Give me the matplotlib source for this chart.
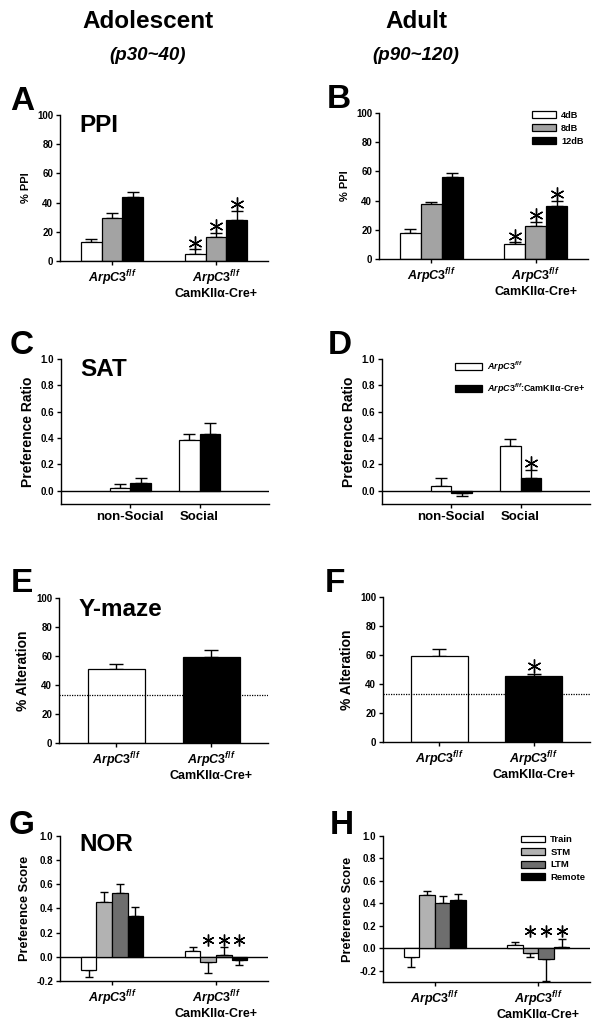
import matplotlib
matplotlib.use("Agg")
import matplotlib.pyplot as plt
import numpy as np
from matplotlib.patches import Patch

plt.rcParams['font.family'] = ['Liberation Sans', 'DejaVu Sans']
plt.rcParams['font.weight'] = 'bold'
plt.rcParams['axes.labelweight'] = 'bold'
plt.rcParams['mathtext.fontset'] = 'custom'
plt.rcParams['mathtext.rm'] = 'Liberation Sans:bold'
plt.rcParams['mathtext.bf'] = 'Liberation Sans:bold'
plt.rcParams['mathtext.it'] = 'Liberation Sans:bold:italic'

# ---------------- data ----------------
geno_labels = [r"$\mathit{ArpC3}^{\mathit{f/f}}$",
               r"$\mathit{ArpC3}^{\mathit{f/f}}$" + "\nCamKIIα-Cre+"]
ppi_levels = ["4dB", "8dB", "12dB"]
ppi_colors = ["white", "#a3a3a3", "black"]

A_ctrl = [13.0, 29.7, 43.5]
A_ctrl_err = [2.0, 3.5, 3.5]
A_ko = [4.8, 16.2, 28.1]
A_ko_err = [3.2, 3.0, 6.2]
A_sig = [True, True, True]

B_ctrl = [17.9, 37.6, 56.0]
B_ctrl_err = [2.5, 1.6, 3.2]
B_ko = [10.1, 22.7, 36.2]
B_ko_err = [1.4, 2.8, 3.5]
B_sig = [True, True, True]

sat_cats = ["non-Social", "Social"]
sat_legend = [r"$\mathit{ArpC3}^{\mathit{f/f}}$",
              r"$\mathit{ArpC3}^{\mathit{f/f}}$:CamKIIα-Cre+"]
C_ctrl = [0.020, 0.384]
C_ctrl_err = [0.030, 0.050]
C_ko = [0.056, 0.434]
C_ko_err = [0.040, 0.084]
C_sig = [False, False]

D_ctrl = [0.040, 0.337]
D_ctrl_err = [0.060, 0.053]
D_ko = [-0.013, 0.100]
D_ko_err = [0.030, 0.057]
D_sig = [False, True]

E_vals = [51.3, 59.1]
E_err = [3.4, 5.3]
E_sig = [False, False]
F_vals = [59.1, 45.3]
F_err = [5.0, 1.8]
F_sig = [False, True]
chance = 33.3

nor_phases = ["Train", "STM", "LTM", "Remote"]
nor_colors = ["white", "#b2b2b2", "#6e6e6e", "black"]
G_ctrl = [-0.113, 0.450, 0.527, 0.335]
G_ctrl_err = [0.057, 0.086, 0.075, 0.080]
G_ko = [0.047, -0.041, 0.016, -0.030]
G_ko_err = [0.035, 0.096, 0.066, 0.041]
G_sig = [False, True, True, True]

H_ctrl = [-0.075, 0.472, 0.403, 0.433]
H_ctrl_err = [0.095, 0.035, 0.063, 0.047]
H_ko = [0.033, -0.045, -0.096, 0.009]
H_ko_err = [0.021, 0.030, 0.194, 0.075]
H_sig = [False, True, True, True]

# ---------------- helpers ----------------
W, H = 602, 1025
fig = plt.figure(figsize=(W / 100, H / 100), dpi=100)


def make_ax(x0, y0, x1, y1):
    return fig.add_axes([x0 / W, 1 - y1 / H, (x1 - x0) / W, (y1 - y0) / H])


def style(ax, ylabel, ylab_size, tick_size=7):
    for s in ["top", "right"]:
        ax.spines[s].set_visible(False)
    for s in ["left", "bottom"]:
        ax.spines[s].set_linewidth(1.0)
    ax.tick_params(direction="out", length=3, width=1, labelsize=tick_size, pad=2)
    ax.set_ylabel(ylabel, fontsize=ylab_size, fontweight="bold", labelpad=4)
    for t in ax.get_yticklabels():
        t.set_fontweight("bold")


def draw_bar(ax, x, v, e, color, width, capsize):
    ax.bar(x, v, width=width, color=color, edgecolor="black", linewidth=0.9, zorder=2)
    yerr = [[0], [e]] if v >= 0 else [[e], [0]]
    ax.errorbar(x, v, yerr=yerr, fmt="none", ecolor="black", elinewidth=1.0,
                capsize=capsize, capthick=1.0, zorder=1)


def star(ax, x, y, size=10):
    ax.plot(x, y, marker=(6, 2, 0), markersize=size, color="black",
            markeredgewidth=1.0, linestyle="none", clip_on=False, zorder=3)


def panel_letter(x, y, s):
    fig.text(x / W, 1 - y / H, s, fontsize=24, fontweight="bold", ha="center", va="center")


def panel_title(ax, s, y):
    ax.text(0.095, y, s, transform=ax.transAxes, fontsize=17.5, fontweight="bold",
            ha="left", va="center")


def xlabels(ax, pos, labels, size=9):
    ax.set_xticks(pos)
    ax.set_xticklabels(labels, fontsize=size, fontweight="bold", linespacing=1.0)


# ---------------- header ----------------
fig.text(148 / W, 1 - 22 / H, "Adolescent", fontsize=17.5, fontweight="bold", ha="center", va="center")
fig.text(148 / W, 1 - 55 / H, "(p30~40)", fontsize=13.5, fontweight="bold", style="italic",
         ha="center", va="center")
fig.text(416 / W, 1 - 22 / H, "Adult", fontsize=17.5, fontweight="bold", ha="center", va="center")
fig.text(416 / W, 1 - 55 / H, "(p90~120)", fontsize=13.5, fontweight="bold", style="italic",
         ha="center", va="center")

# ---------------- PPI panels ----------------
def ppi_panel(ax, ctrl, ctrl_err, ko, ko_err, sig):
    bw = 0.2
    groups = [(0, ctrl, ctrl_err, [False] * 3), (1, ko, ko_err, sig)]
    for g, vals, errs, sg in groups:
        for i, (v, e, c) in enumerate(zip(vals, errs, ppi_colors)):
            x = g + (i - 1) * bw
            draw_bar(ax, x, v, e, c, bw, 4)
            if sg[i]:
                star(ax, x, v + e + 4.5)
    ax.set_xlim(-0.5, 1.5)
    ax.set_ylim(0, 100)
    ax.set_yticks(np.arange(0, 101, 20))
    style(ax, "% PPI", 8)
    xlabels(ax, [0, 1], geno_labels)


axA = make_ax(60, 115, 268, 261)
ppi_panel(axA, A_ctrl, A_ctrl_err, A_ko, A_ko_err, A_sig)
panel_title(axA, "PPI", 0.93)
panel_letter(22, 101, "A")

axB = make_ax(379, 113, 588, 259)
ppi_panel(axB, B_ctrl, B_ctrl_err, B_ko, B_ko_err, B_sig)
panel_letter(339, 100, "B")
hB = [Patch(facecolor=c, edgecolor="black", linewidth=0.9) for c in ppi_colors]
axB.legend(hB, ppi_levels, loc="upper left", bbox_to_anchor=(0.70, 1.06), frameon=False,
           fontsize=6.6, handlelength=2.6, handleheight=0.75, labelspacing=0.45,
           handletextpad=0.6, borderpad=0.2)

# ---------------- SAT panels ----------------
def sat_panel(ax, ctrl, ctrl_err, ko, ko_err, sig):
    bw = 0.3
    for k, (vc, ec, vk, ek) in enumerate(zip(ctrl, ctrl_err, ko, ko_err)):
        x = k + 1
        draw_bar(ax, x - bw / 2, vc, ec, "white", bw, 4)
        draw_bar(ax, x + bw / 2, vk, ek, "black", bw, 4)
        if sig[k]:
            star(ax, x + bw / 2, vk + ek + 0.053)
    ax.axhline(0, color="black", lw=1.0, zorder=0)
    ax.set_xlim(0, 3)
    ax.set_ylim(-0.1, 1.0)
    ax.set_yticks(np.arange(0, 1.01, 0.2))
    ax.set_yticklabels([f"{t:.1f}" for t in np.arange(0, 1.01, 0.2)])
    style(ax, "Preference Ratio", 10)
    xlabels(ax, [1, 2], sat_cats, size=9.5)


axC = make_ax(61, 359, 269, 504)
sat_panel(axC, C_ctrl, C_ctrl_err, C_ko, C_ko_err, C_sig)
panel_title(axC, "SAT", 0.926)
panel_letter(22, 345, "C")

axD = make_ax(382, 359, 590, 504)
sat_panel(axD, D_ctrl, D_ctrl_err, D_ko, D_ko_err, D_sig)
panel_letter(340, 345, "D")
hD = [Patch(facecolor=c, edgecolor="black", linewidth=0.9) for c in ["white", "black"]]
axD.legend(hD, sat_legend, loc="upper left", bbox_to_anchor=(0.32, 1.04), frameon=False,
           fontsize=6.5, handlelength=3.0, handleheight=0.8, labelspacing=0.85,
           handletextpad=0.6, borderpad=0.2)

# ---------------- Y-maze panels ----------------
def ymaze_panel(ax, vals, errs, sig):
    bw = 0.6
    for k, (v, e, c) in enumerate(zip(vals, errs, ["white", "black"])):
        draw_bar(ax, k, v, e, c, bw, 5)
        if sig[k]:
            star(ax, k, v + e + 5)
    ax.axhline(chance, color="black", lw=0.9, ls=(0, (1, 1)), zorder=3)
    ax.set_xlim(-0.6, 1.6)
    ax.set_ylim(0, 100)
    ax.set_yticks(np.arange(0, 101, 20))
    style(ax, "% Alteration", 10)
    xlabels(ax, [0, 1], geno_labels)


axE = make_ax(59, 598, 268, 743)
ymaze_panel(axE, E_vals, E_err, E_sig)
panel_title(axE, "Y-maze", 0.92)
panel_letter(22, 583, "E")

axF = make_ax(383, 597, 590, 742)
ymaze_panel(axF, F_vals, F_err, F_sig)
panel_letter(335, 583, "F")

# ---------------- NOR panels ----------------
def nor_panel(ax, ctrl, ctrl_err, ko, ko_err, sig, ymin, star_off):
    bw = 0.15
    groups = [(0, ctrl, ctrl_err), (1, ko, ko_err)]
    for g, vals, errs in groups:
        for i, (v, e, c) in enumerate(zip(vals, errs, nor_colors)):
            draw_bar(ax, g + (i - 1.5) * bw, v, e, c, bw, 3)
    tops = [v + e if v >= 0 else 0 for v, e in zip(ko, ko_err)]
    level = max(tops) + star_off
    for i, s in enumerate(sig):
        if s:
            star(ax, 1 + (i - 1.5) * bw, level, size=8.5)
    ax.axhline(0, color="black", lw=1.0, zorder=0)
    ax.set_xlim(-0.5, 1.5)
    ax.set_ylim(ymin, 1.0)
    ticks = np.arange(-0.2, 1.01, 0.2)
    ax.set_yticks(ticks)
    ax.set_yticklabels([f"{t:.1f}" if abs(t) > 1e-9 else "0.0" for t in ticks])
    style(ax, "Preference Score", 9.2)
    xlabels(ax, [0, 1], geno_labels)


axG = make_ax(60, 836, 268, 981)
nor_panel(axG, G_ctrl, G_ctrl_err, G_ko, G_ko_err, G_sig, -0.2, 0.055)
panel_title(axG, "NOR", 0.938)
panel_letter(22, 825, "G")

axH = make_ax(383, 836, 590, 982)
nor_panel(axH, H_ctrl, H_ctrl_err, H_ko, H_ko_err, H_sig, -0.3, 0.068)
panel_letter(342, 825, "H")
hH = [Patch(facecolor=c, edgecolor="black", linewidth=0.9) for c in nor_colors]
axH.legend(hH, nor_phases, loc="upper left", bbox_to_anchor=(0.635, 1.05), frameon=False,
           fontsize=6.8, handlelength=2.5, handleheight=0.75, labelspacing=0.38,
           handletextpad=0.6, borderpad=0.2)

fig.savefig("out.png", dpi=100)
